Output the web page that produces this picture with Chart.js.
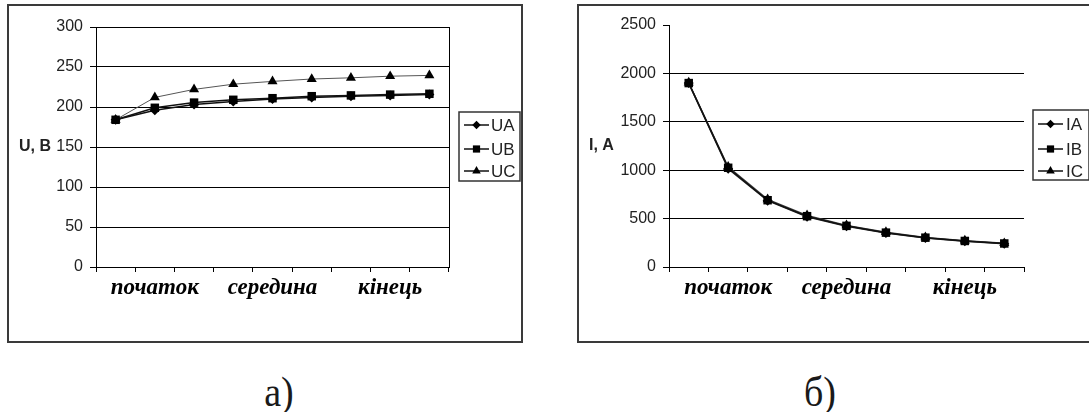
<!DOCTYPE html>
<html>
<head>
<meta charset="utf-8">
<script src="https://cdn.jsdelivr.net/npm/chart.js@4.4.1/dist/chart.umd.min.js"></script>
<style>
  html, body { margin: 0; padding: 0; background: #fff; width: 1089px; height: 412px; overflow: hidden; }
  .panel { position: absolute; top: 4px; height: 335px; border: 2px solid #3a3a3a; background: #fff; }
  #panelU { left: 7px; width: 512px; }
  #panelI { left: 577px; width: 511px; }
  canvas { display: block; }
  .cap { position: absolute; top: 373px; width: 80px; text-align: center;
         font-family: 'Liberation Serif', serif; font-size: 38px; line-height: 38px; color: #1a1a1a;
         transform: scaleY(1.1); transform-origin: 50% 22px; }
</style>
</head>
<body>
<div class="panel" id="panelU"><canvas id="chartU" width="512" height="335"></canvas></div>
<div class="panel" id="panelI"><canvas id="chartI" width="511" height="335"></canvas></div>
<div class="cap" style="left:239px">а)</div>
<div class="cap" style="left:780px">б)</div>

<script>
// Categories along the line (start / middle / end)
const categories = ['', 'початок', '', '', 'середина', '', '', 'кінець', ''];

// Phase voltages, V
const seriesUNames = ['UA', 'UB', 'UC'];
const UA = [184, 196, 203, 207, 210, 212, 213.5, 214.5, 215.5];
const UB = [184, 199, 205.5, 209, 211, 213.5, 214.5, 215.5, 216.5];
const UC = [184, 212, 222, 228.5, 232, 235, 236.5, 238.5, 239.5];

// Phase currents, A
const seriesINames = ['IA', 'IB', 'IC'];
const IA = [1900, 1015, 685, 520, 420, 350, 300, 265, 240];
const IB = [1900, 1025, 690, 525, 425, 355, 303, 269, 243];
const IC = [1905, 1035, 700, 533, 430, 360, 307, 272, 246];

// Axis ranges and titles
const uAxis = { min: 0, max: 300, step: 50, title: 'U, B' };
const iAxis = { min: 0, max: 2500, step: 500, title: 'I, A' };

const markerStyles = ['rectRot', 'rect', 'triangle'];
const markerSizes = [5, 6, 5.8];

function drawMarker(ctx, style, r, x, y) {
  ctx.beginPath();
  if (style === 'rect') {
    const s = r / Math.SQRT2;
    ctx.rect(x - s, y - s, 2 * s, 2 * s);
  } else if (style === 'rectRot') {
    ctx.moveTo(x, y - r); ctx.lineTo(x + r, y); ctx.lineTo(x, y + r); ctx.lineTo(x - r, y);
    ctx.closePath();
  } else {
    const a = Math.PI * 2 / 3;
    ctx.moveTo(x, y - r);
    ctx.lineTo(x + Math.sin(a) * r, y - Math.cos(a) * r);
    ctx.lineTo(x - Math.sin(a) * r, y - Math.cos(a) * r);
    ctx.closePath();
  }
  ctx.fill();
}

// Boxed legend with a line-and-marker sample for every series
const boxLegend = {
  id: 'boxLegend',
  afterDraw(chart, args, o) {
    const ctx = chart.ctx;
    ctx.save();
    ctx.strokeStyle = '#333';
    ctx.lineWidth = 1.5;
    ctx.strokeRect(o.x, o.y, o.w, o.h);
    const items = chart.data.datasets.slice().sort((a, b) => a.idx - b.idx);
    items.forEach((ds, i) => {
      const ry = o.rows[i];
      ctx.strokeStyle = '#111';
      ctx.lineWidth = 1.5;
      ctx.beginPath();
      ctx.moveTo(o.lineFrom, ry);
      ctx.lineTo(o.lineTo, ry);
      ctx.stroke();
      ctx.fillStyle = '#000';
      drawMarker(ctx, ds.pointStyle, ds.pointRadius * 0.85, (o.lineFrom + o.lineTo) / 2, ry);
      ctx.fillStyle = '#222';
      ctx.font = '17px "Liberation Sans", Arial, sans-serif';
      ctx.textBaseline = 'middle';
      ctx.textAlign = 'left';
      ctx.fillText(ds.label, o.textX, ry + 1);
    });
    ctx.restore();
  }
};

// Horizontal value-axis title at the left, plus optional right frame of the plot
const axisDecor = {
  id: 'axisDecor',
  afterDraw(chart, args, o) {
    const ctx = chart.ctx;
    const ca = chart.chartArea;
    ctx.save();
    ctx.fillStyle = '#222';
    ctx.font = 'bold 16px "Liberation Sans", Arial, sans-serif';
    ctx.textBaseline = 'middle';
    ctx.textAlign = 'left';
    ctx.fillText(chart.options.scales.y.title.text, o.titleX, (ca.top + ca.bottom) / 2);
    if (o.frameRight) {
      ctx.strokeStyle = '#000';
      ctx.lineWidth = 1;
      const xr = Math.round(ca.right) + 0.5;
      ctx.beginPath();
      ctx.moveTo(xr, ca.top);
      ctx.lineTo(xr, ca.bottom);
      ctx.stroke();
    }
    ctx.restore();
  }
};

function makeDatasets(names, arrays, colors, widths) {
  return names.map((n, i) => ({
    label: n,
    idx: i,
    data: arrays[i],
    borderColor: colors[i],
    borderWidth: widths[i],
    backgroundColor: '#000',
    pointStyle: markerStyles[i],
    pointRadius: markerSizes[i],
    pointBackgroundColor: '#000',
    pointBorderColor: '#000',
    pointBorderWidth: 0,
    tension: 0,
    // diamonds under squares, triangles lowest
    order: [1, 0, 2][i]
  }));
}

function makeChart(canvasId, datasets, axis, yWidth, pad, legendOpts, decorOpts, hideTopGrid) {
  return new Chart(document.getElementById(canvasId), {
    type: 'line',
    data: { labels: categories, datasets: datasets },
    options: {
      responsive: false,
      animation: false,
      devicePixelRatio: 1,
      layout: { padding: pad },
      plugins: {
        legend: { display: false },
        tooltip: { enabled: false },
        boxLegend: legendOpts,
        axisDecor: decorOpts
      },
      scales: {
        x: {
          offset: true,
          grid: { display: true, drawOnChartArea: false, offset: true, tickLength: 5, color: '#000', tickColor: '#000' },
          border: { color: '#000', width: 1 },
          ticks: {
            autoSkip: false, maxRotation: 0, minRotation: 0, padding: 2, color: '#000',
            font: { family: '"Liberation Serif", "Times New Roman", serif', size: 23, style: 'italic', weight: 'bold' }
          },
          afterFit: s => { s.height = 74; }
        },
        y: {
          min: axis.min, max: axis.max,
          title: { display: false, text: axis.title },
          ticks: { stepSize: axis.step, padding: 7, color: '#222',
                   format: { useGrouping: false },
                   font: { family: '"Liberation Sans", Arial, sans-serif', size: 16 } },
          grid: {
            color: c => (hideTopGrid && c.tick && c.tick.value === axis.max) ? 'rgba(0,0,0,0)' : '#000',
            tickColor: '#000', tickLength: 6, lineWidth: 1
          },
          border: { color: '#000', width: 1 },
          afterFit: s => { s.width = yWidth; }
        }
      }
    },
    plugins: [boxLegend, axisDecor]
  });
}

makeChart('chartU',
  makeDatasets(seriesUNames, [UA, UB, UC], ['#111', '#111', '#555'], [1.5, 1.5, 1]),
  uAxis, 87, { left: 0, top: 21, right: 72, bottom: 0 },
  { x: 450, y: 106, w: 61, h: 69, rows: [119, 143, 165], lineFrom: 455, lineTo: 480, textX: 482 },
  { titleX: 10, frameRight: true }, false);

makeChart('chartI',
  makeDatasets(seriesINames, [IA, IB, IC], ['#222', '#111', '#444'], [1.5, 1.5, 1.2]),
  iAxis, 90, { left: 0, top: 19, right: 66, bottom: 0 },
  { x: 454, y: 104, w: 56, h: 70, rows: [118, 143, 165], lineFrom: 459, lineTo: 484, textX: 487 },
  { titleX: 10, frameRight: false }, true);
</script>
</body>
</html>
